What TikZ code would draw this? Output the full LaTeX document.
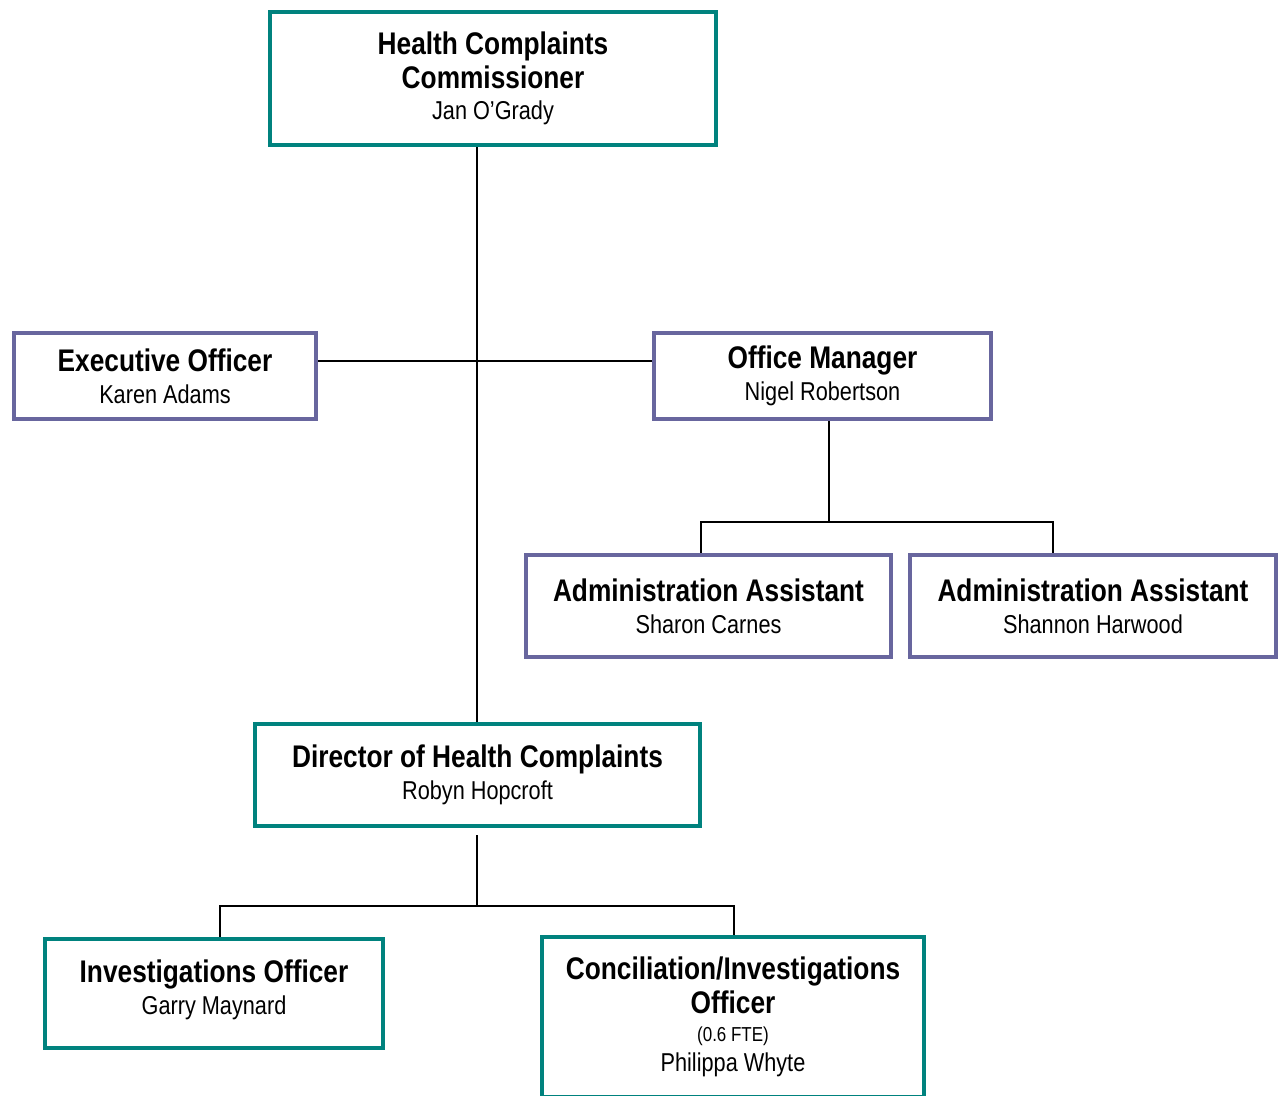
\documentclass[tikz,border=0pt]{standalone}
\usepackage{fontspec}
\setmainfont{Liberation Sans}[FakeStretch=0.84]
\usepackage{tikz}
\usetikzlibrary{positioning, calc}
\definecolor{tealbox}{RGB}{0,130,126}
\definecolor{lilacbox}{RGB}{104,102,158}

\begin{document}
\begin{tikzpicture}[x=1cm,y=1cm]

% --- Stili
\tikzset{
  post/.style={draw, line width=2.7pt, fill=white, align=center,
    inner sep=2pt, font=\fontsize{14.7}{18}\selectfont},
  tealpost/.style={post, draw=tealbox},
  lilacpost/.style={post, draw=lilacbox},
  link/.style={line width=1.1pt, black},
}
\newcommand{\role}[1]{{\fontsize{17.8}{20}\selectfont\bfseries #1}}

\useasboundingbox (0,0) rectangle (25.68,-21.9);

% --- Caselle
\node[tealpost, minimum width=8.92cm, minimum height=2.66cm] (hcc) at (9.86,-1.57)
  {\role{Health Complaints}\\[1pt] \role{Commissioner}\\ Jan O’Grady};
\node[lilacpost, minimum width=6.04cm, minimum height=1.72cm] (exec) at (3.30,-7.52)
  {\role{Executive Officer}\\ Karen Adams};
\node[lilacpost, minimum width=6.74cm, minimum height=1.72cm] (om) at (16.45,-7.52)
  {\role{Office Manager}\\ Nigel Robertson};
\node[lilacpost, minimum width=7.30cm, minimum height=2.04cm] (aa1) at (14.17,-12.12)
  {\role{Administration Assistant}\\ Sharon Carnes};
\node[lilacpost, minimum width=7.32cm, minimum height=2.04cm] (aa2) at (21.86,-12.12)
  {\role{Administration Assistant}\\ Shannon Harwood};
\node[tealpost, minimum width=8.90cm, minimum height=2.04cm] (dir) at (9.55,-15.50)
  {\role{Director of Health Complaints}\\ Robyn Hopcroft};
\node[tealpost, minimum width=6.76cm, minimum height=2.18cm] (io) at (4.28,-19.87)
  {\role{Investigations Officer}\\ Garry Maynard\\[-11pt]};
\node[tealpost, minimum width=7.64cm, minimum height=3.20cm] (cio) at (14.66,-20.34)
  {\role{Conciliation/Investigations}\\[1pt] \role{Officer}\\[-2pt]
   {\fontsize{11.5}{13}\selectfont (0.6 FTE)}\\[-1pt] Philippa Whyte};

% --- Punti di snodo
\coordinate (jx) at (9.54,-7.22);
\coordinate (bom) at (16.58,-10.44);
\coordinate (d1) at (14.02,-10.44);
\coordinate (d2) at (21.06,-10.44);
\coordinate (bdir) at (9.54,-18.12);
\coordinate (d3) at (4.40,-18.12);
\coordinate (d4) at (14.68,-18.12);

% --- Collegamenti
\draw[link] (hcc.south -| jx) -- (dir.north -| jx);
\draw[link] (exec.east |- jx) -- (om.west |- jx);
\draw[link] (om.south -| bom) -- (bom);
\draw[link] (d1 |- aa1.north) -- (d1) -- (d2) -- (d2 |- aa2.north);
\draw[link, shorten <=0.14cm] (dir.south -| bdir) -- (bdir);
\draw[link] (d3 |- io.north) -- (d3) -- (d4) -- (d4 |- cio.north);

\end{tikzpicture}
\end{document}
